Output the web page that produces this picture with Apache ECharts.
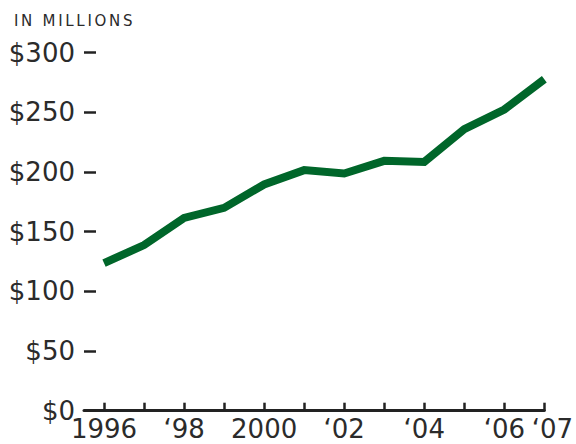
<!DOCTYPE html>
<html>
<head>
<meta charset="utf-8">
<style>html,body{margin:0;padding:0;background:#fff;overflow:hidden;width:576px;height:444px;}#c{width:576px;height:444px;overflow:hidden;contain:strict;}#c svg{display:block;overflow:hidden;}</style>
<script src="https://cdn.jsdelivr.net/npm/echarts@6/dist/echarts.min.js"></script>
</head>
<body>
<div id="c"></div>
<script>
const years = [1996, 1997, 1998, 1999, 2000, 2001, 2002, 2003, 2004, 2005, 2006, 2007];
const values = [123.7, 138.8, 161.6, 170, 189.6, 201.6, 198.8, 209.4, 208.5, 236, 252.4, 277.8];
const xTickLabels = {1996: '1996', 1998: '\u201898', 2000: '2000', 2002: '\u201802', 2004: '\u201804', 2006: '\u201806', 2007: '\u201807'};
const unitLabel = 'IN MILLIONS';

const font = 'DejaVu Sans';
const textColor = '#2b2b2b';
const chart = echarts.init(document.getElementById('c'), null, {renderer: 'svg', width: 576, height: 444});
chart.setOption({
  animation: false,
  backgroundColor: '#fff',
  title: {
    text: unitLabel, left: 9, top: 8,
    textStyle: {fontFamily: font, fontSize: 15, fontWeight: 'normal', color: textColor}
  },
  grid: {left: 84, right: 29.4, top: 52.7, bottom: 33.3, containLabel: false},
  xAxis: {
    type: 'value', min: 1995.5, max: 2007,
    splitLine: {show: false},
    axisLine: {show: true, lineStyle: {color: '#222', width: 3}},
    axisTick: {show: true, inside: true, length: 8, lineStyle: {color: '#222', width: 2.5}, customValues: years},
    axisLabel: {
      show: true, customValues: Object.keys(xTickLabels).map(Number), margin: 5,
      hideOverlap: false, showMaxLabel: true, showMinLabel: true,
      fontFamily: font, fontSize: 26, color: textColor,
      formatter: v => {
        const y = Math.round(v);
        const t = xTickLabels[y] || '';
        return y === 2007 ? '{s|' + t + '}' : t;
      },
      rich: {s: {fontFamily: font, fontSize: 26, color: textColor, padding: [0, 0, 0, 16]}}
    }
  },
  yAxis: {
    type: 'value', min: 0, max: 300, interval: 50,
    splitLine: {show: false},
    axisLine: {show: false},
    axisTick: {show: true, inside: true, length: 12, lineStyle: {color: '#222', width: 2.5}},
    axisLabel: {
      margin: 9, fontFamily: font, fontSize: 26, color: textColor,
      formatter: v => '$' + v
    }
  },
  series: [{
    type: 'line',
    data: years.map((y, i) => [y, values[i]]),
    showSymbol: false,
    symbol: 'none',
    lineStyle: {color: '#00662a', width: 8, cap: 'butt', join: 'miter'}
  }]
});
document.querySelectorAll('#c svg text').forEach(t => {
  if (t.textContent === unitLabel) t.style.letterSpacing = '2.7px';
});
</script>
</body>
</html>
